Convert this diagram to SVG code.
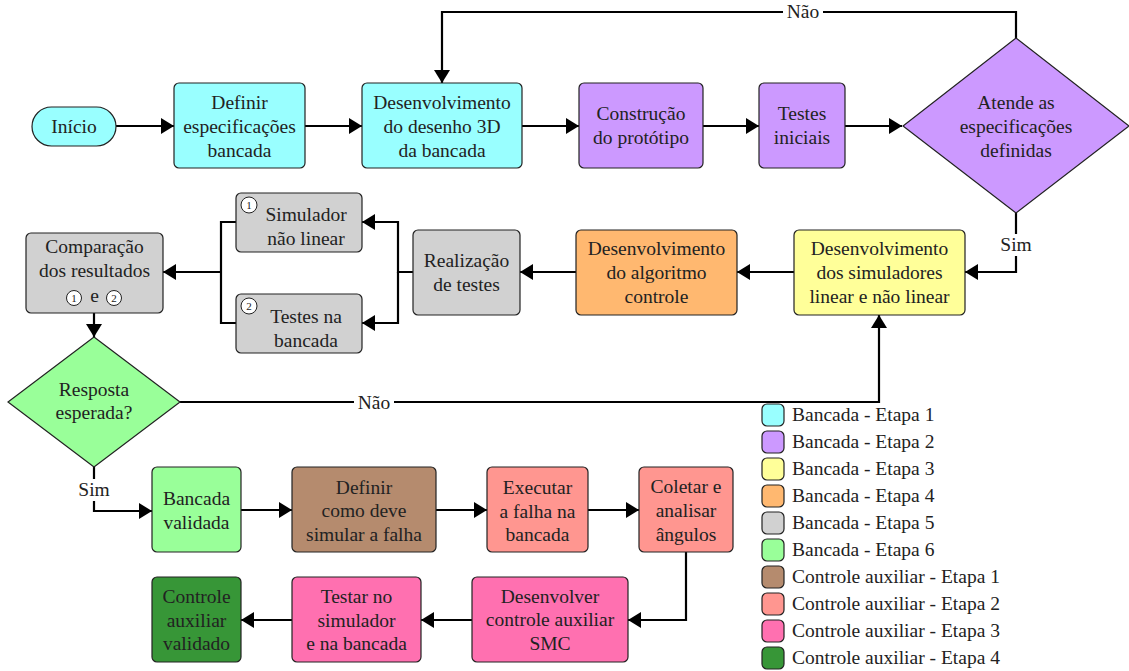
<svg xmlns="http://www.w3.org/2000/svg" width="1129" height="671" viewBox="0 0 1129 671">
  <defs>
    <marker id="arrow" markerUnits="userSpaceOnUse" markerWidth="14" markerHeight="16" refX="13" refY="8" orient="auto">
      <path d="M0,0 L13,8 L0,16 z" fill="#000"/>
    </marker>
    <style>
      text { font-family: "Liberation Serif", "DejaVu Serif", "Times New Roman", serif; fill: #222; }
      .box { stroke: #222; stroke-width: 1.2; }
      .t { font-size: 19.5px; text-anchor: middle; }
      .lt { font-size: 19.5px; text-anchor: start; }
      .num { font-size: 11px; text-anchor: middle; }
      .lbl { font-size: 19.5px; text-anchor: middle; }
      .conn { fill: none; stroke: #000; stroke-width: 2.2; }
      .circ { fill: #fff; stroke: #222; stroke-width: 1; }
      .c1 { fill: #99FFFF; } .c2 { fill: #CC99FF; } .c3 { fill: #FFFF99; }
      .c4 { fill: #FFB870; } .c5 { fill: #D1D1D1; } .c6 { fill: #99FF99; }
      .a1 { fill: #B58B6E; } .a2 { fill: #FF9690; } .a3 { fill: #FF70B0; } .a4 { fill: #379637; }
    </style>
  </defs>
  <rect width="1129" height="671" fill="#fff"/>

  <!-- connectors -->
  <g id="connectors">
    <path class="conn" d="M116,126 H174" marker-end="url(#arrow)"/>
    <path class="conn" d="M305,126 H362" marker-end="url(#arrow)"/>
    <path class="conn" d="M522,126 H579" marker-end="url(#arrow)"/>
    <path class="conn" d="M703,126 H759" marker-end="url(#arrow)"/>
    <path class="conn" d="M845,126 H902" marker-end="url(#arrow)"/>
    <path class="conn" d="M1016,38 V12 H442 V83" marker-end="url(#arrow)"/>
    <path class="conn" d="M1016,213 V272 H965" marker-end="url(#arrow)"/>
    <path class="conn" d="M794,272 H737" marker-end="url(#arrow)"/>
    <path class="conn" d="M576,272 H520" marker-end="url(#arrow)"/>
    <path class="conn" d="M413,272 H398 V222 H362" marker-end="url(#arrow)"/>
    <path class="conn" d="M398,272 V323 H362" marker-end="url(#arrow)"/>
    <path class="conn" d="M236,222 H221 V323 H236"/>
    <path class="conn" d="M221,272 H163" marker-end="url(#arrow)"/>
    <path class="conn" d="M94,313 V337" marker-end="url(#arrow)"/>
    <path class="conn" d="M180,402 H879 V315" marker-end="url(#arrow)"/>
    <path class="conn" d="M94,467 V511 H152" marker-end="url(#arrow)"/>
    <path class="conn" d="M241,510 H292" marker-end="url(#arrow)"/>
    <path class="conn" d="M436,510 H487" marker-end="url(#arrow)"/>
    <path class="conn" d="M588,510 H639" marker-end="url(#arrow)"/>
    <path class="conn" d="M686,552 V620 H628" marker-end="url(#arrow)"/>
    <path class="conn" d="M472,620 H421" marker-end="url(#arrow)"/>
    <path class="conn" d="M292,620 H241" marker-end="url(#arrow)"/>
    <!-- edge labels -->
    <rect x="783" y="1" width="40" height="22" fill="#fff"/>
    <text class="lbl" x="803" y="18">Não</text>
    <rect x="996" y="234" width="40" height="22" fill="#fff"/>
    <text class="lbl" x="1016" y="251">Sim</text>
    <rect x="354" y="392" width="40" height="22" fill="#fff"/>
    <text class="lbl" x="374" y="409">Não</text>
    <rect x="74" y="479" width="40" height="22" fill="#fff"/>
    <text class="lbl" x="94" y="496">Sim</text>
  </g>

  <!-- top row -->
  <g id="inicio">
    <rect class="box c1" x="32" y="107" width="84" height="39" rx="19.5"/>
    <text class="t" x="74" y="133">Início</text>
  </g>
  <g id="definir-especificacoes">
    <rect class="box c1" x="174" y="83" width="131" height="85" rx="5"/>
    <text class="t" x="239.5" y="109">Definir</text>
    <text class="t" x="239.5" y="133">especificações</text>
    <text class="t" x="239.5" y="157">bancada</text>
  </g>
  <g id="desenho-3d">
    <rect class="box c1" x="362" y="83" width="160" height="85" rx="5"/>
    <text class="t" x="442" y="109">Desenvolvimento</text>
    <text class="t" x="442" y="133">do desenho 3D</text>
    <text class="t" x="442" y="157">da bancada</text>
  </g>
  <g id="prototipo">
    <rect class="box c2" x="579" y="83" width="124" height="85" rx="5"/>
    <text class="t" x="641" y="120">Construção</text>
    <text class="t" x="641" y="144">do protótipo</text>
  </g>
  <g id="testes-iniciais">
    <rect class="box c2" x="759" y="83" width="86" height="85" rx="5"/>
    <text class="t" x="802" y="120">Testes</text>
    <text class="t" x="802" y="144">iniciais</text>
  </g>
  <g id="atende-especificacoes">
    <path class="box c2" d="M1016,38 L1129,126 L1016,213 L903,126 z"/>
    <text class="t" x="1016" y="109">Atende as</text>
    <text class="t" x="1016" y="133">especificações</text>
    <text class="t" x="1016" y="157">definidas</text>
  </g>

  <!-- middle row -->
  <g id="simuladores">
    <rect class="box c3" x="794" y="230" width="171" height="85" rx="5"/>
    <text class="t" x="879.5" y="255">Desenvolvimento</text>
    <text class="t" x="879.5" y="279">dos simuladores</text>
    <text class="t" x="879.5" y="303">linear e não linear</text>
  </g>
  <g id="algoritmo-controle">
    <rect class="box c4" x="576" y="230" width="161" height="85" rx="5"/>
    <text class="t" x="656.5" y="255">Desenvolvimento</text>
    <text class="t" x="656.5" y="279">do algoritmo</text>
    <text class="t" x="656.5" y="303">controle</text>
  </g>
  <g id="realizacao-testes">
    <rect class="box c5" x="413" y="230" width="107" height="85" rx="5"/>
    <text class="t" x="466.5" y="267">Realização</text>
    <text class="t" x="466.5" y="291">de testes</text>
  </g>
  <g id="simulador-nao-linear">
    <rect class="box c5" x="236" y="193" width="126" height="59" rx="5"/>
    <circle class="circ" cx="249" cy="205" r="8"/>
    <text class="num" x="249" y="209">1</text>
    <text class="t" x="306" y="221">Simulador</text>
    <text class="t" x="306" y="245">não linear</text>
  </g>
  <g id="testes-bancada">
    <rect class="box c5" x="236" y="294" width="126" height="59" rx="5"/>
    <circle class="circ" cx="249" cy="306" r="8"/>
    <text class="num" x="249" y="310">2</text>
    <text class="t" x="306" y="323">Testes na</text>
    <text class="t" x="306" y="347">bancada</text>
  </g>
  <g id="comparacao">
    <rect class="box c5" x="26" y="233" width="137" height="80" rx="5"/>
    <text class="t" x="94.5" y="253">Comparação</text>
    <text class="t" x="94.5" y="277">dos resultados</text>
    <circle class="circ" cx="74" cy="298" r="7.5"/>
    <text class="num" x="74" y="302">1</text>
    <text class="t" x="94.5" y="302">e</text>
    <circle class="circ" cx="114" cy="298" r="7.5"/>
    <text class="num" x="114" y="302">2</text>
  </g>
  <g id="resposta-esperada">
    <path class="box c6" d="M94,337 L180,402 L94,467 L8,402 z"/>
    <text class="t" x="94" y="396">Resposta</text>
    <text class="t" x="94" y="419">esperada?</text>
  </g>

  <!-- bottom rows -->
  <g id="bancada-validada">
    <rect class="box c6" x="152" y="467" width="89" height="85" rx="5"/>
    <text class="t" x="196.5" y="505">Bancada</text>
    <text class="t" x="196.5" y="529">validada</text>
  </g>
  <g id="definir-falha">
    <rect class="box a1" x="292" y="467" width="144" height="85" rx="5"/>
    <text class="t" x="364" y="494">Definir</text>
    <text class="t" x="364" y="517">como deve</text>
    <text class="t" x="364" y="541">simular a falha</text>
  </g>
  <g id="executar-falha">
    <rect class="box a2" x="487" y="467" width="101" height="85" rx="5"/>
    <text class="t" x="537.5" y="494">Executar</text>
    <text class="t" x="537.5" y="518">a falha na</text>
    <text class="t" x="537.5" y="541">bancada</text>
  </g>
  <g id="coletar-angulos">
    <rect class="box a2" x="639" y="467" width="94" height="85" rx="5"/>
    <text class="t" x="686" y="493">Coletar e</text>
    <text class="t" x="686" y="517">analisar</text>
    <text class="t" x="686" y="541">ângulos</text>
  </g>
  <g id="desenvolver-smc">
    <rect class="box a3" x="472" y="577" width="156" height="85" rx="5"/>
    <text class="t" x="550" y="603">Desenvolver</text>
    <text class="t" x="550" y="626">controle auxiliar</text>
    <text class="t" x="550" y="650">SMC</text>
  </g>
  <g id="testar-simulador-bancada">
    <rect class="box a3" x="292" y="577" width="129" height="85" rx="5"/>
    <text class="t" x="356.5" y="603">Testar no</text>
    <text class="t" x="356.5" y="627">simulador</text>
    <text class="t" x="356.5" y="650">e na bancada</text>
  </g>
  <g id="controle-validado">
    <rect class="box a4" x="152" y="577" width="89" height="85" rx="5"/>
    <text class="t" x="196.5" y="603">Controle</text>
    <text class="t" x="196.5" y="627">auxiliar</text>
    <text class="t" x="196.5" y="650">validado</text>
  </g>

  <!-- legend -->
  <g id="legend">
    <rect class="box c1" x="762" y="404" width="22" height="22" rx="5"/>
    <text class="lt" x="792" y="421">Bancada - Etapa 1</text>
    <rect class="box c2" x="762" y="431" width="22" height="22" rx="5"/>
    <text class="lt" x="792" y="448">Bancada - Etapa 2</text>
    <rect class="box c3" x="762" y="458" width="22" height="22" rx="5"/>
    <text class="lt" x="792" y="475">Bancada - Etapa 3</text>
    <rect class="box c4" x="762" y="485" width="22" height="22" rx="5"/>
    <text class="lt" x="792" y="502">Bancada - Etapa 4</text>
    <rect class="box c5" x="762" y="512" width="22" height="22" rx="5"/>
    <text class="lt" x="792" y="529">Bancada - Etapa 5</text>
    <rect class="box c6" x="762" y="539" width="22" height="22" rx="5"/>
    <text class="lt" x="792" y="556">Bancada - Etapa 6</text>
    <rect class="box a1" x="762" y="566" width="22" height="22" rx="5"/>
    <text class="lt" x="792" y="583">Controle auxiliar - Etapa 1</text>
    <rect class="box a2" x="762" y="593" width="22" height="22" rx="5"/>
    <text class="lt" x="792" y="610">Controle auxiliar - Etapa 2</text>
    <rect class="box a3" x="762" y="620" width="22" height="22" rx="5"/>
    <text class="lt" x="792" y="637">Controle auxiliar - Etapa 3</text>
    <rect class="box a4" x="762" y="647" width="22" height="22" rx="5"/>
    <text class="lt" x="792" y="664">Controle auxiliar - Etapa 4</text>
  </g>
</svg>
